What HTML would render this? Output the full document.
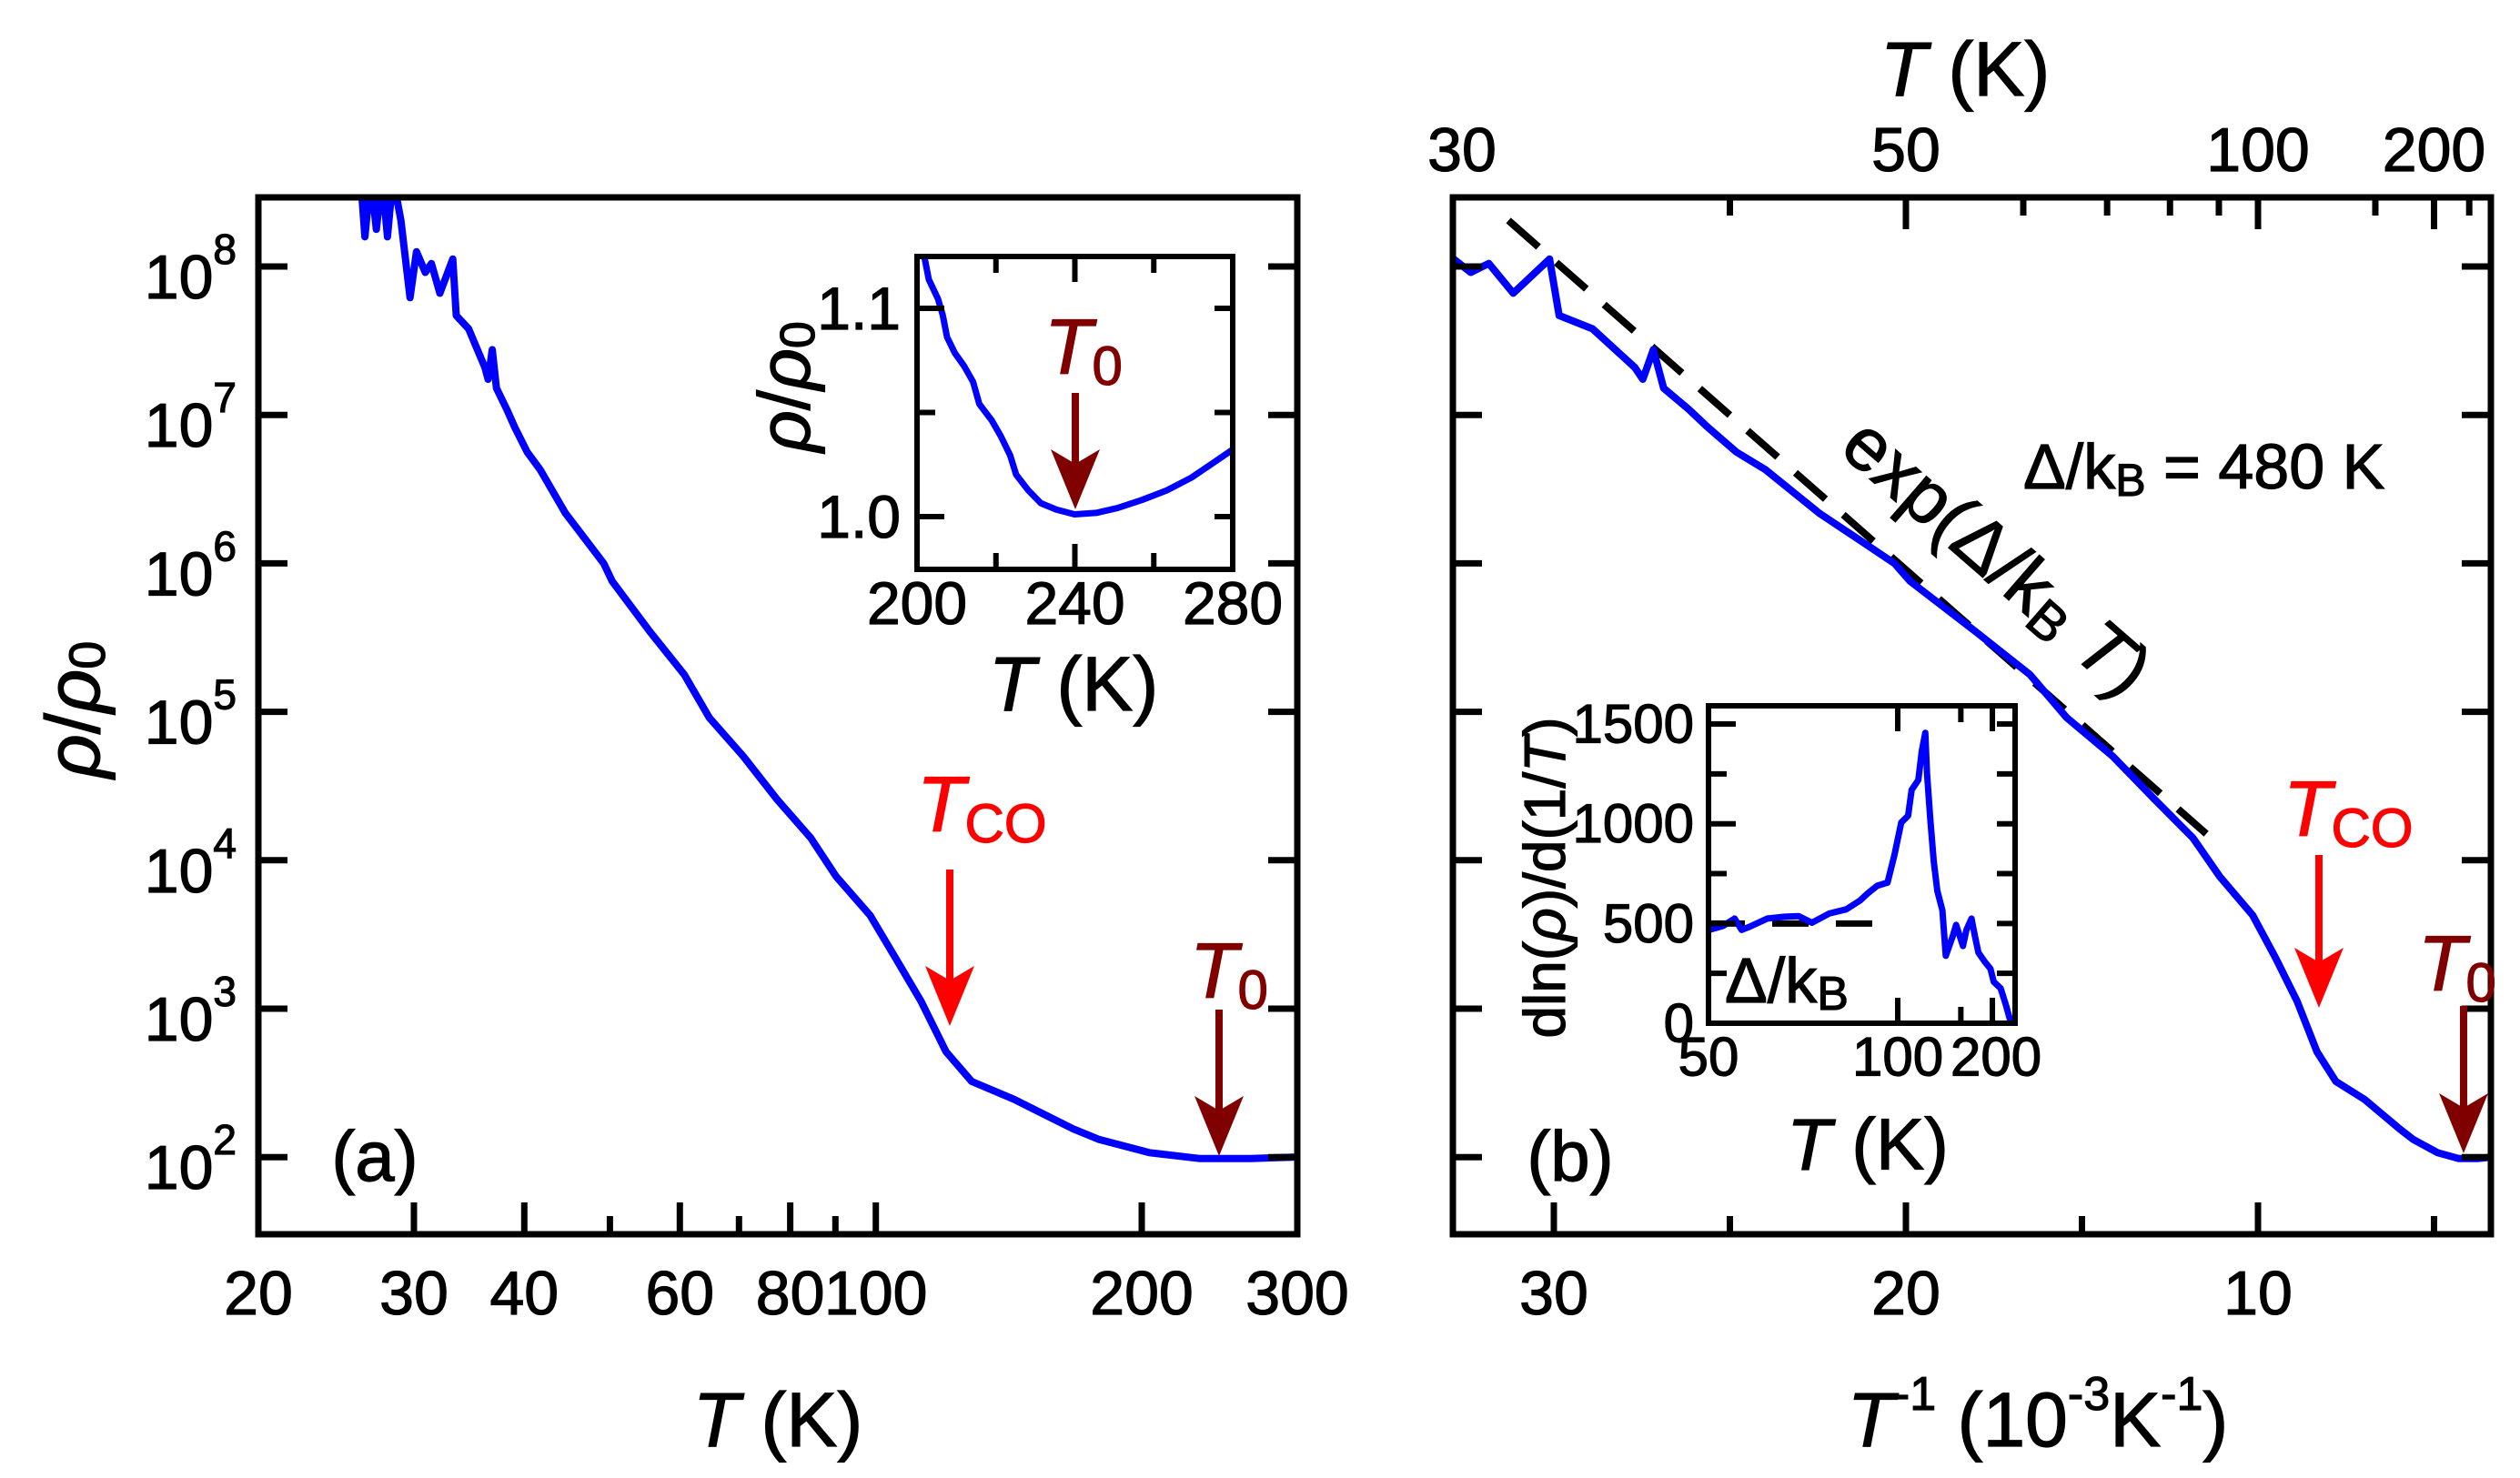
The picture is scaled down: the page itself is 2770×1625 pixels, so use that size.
<!DOCTYPE html>
<html><head><meta charset="utf-8">
<style>
html,body{margin:0;padding:0;background:#fff;}
svg{display:block;font-family:"Liberation Sans",Arial,sans-serif;}
text{stroke-width:1.2px;paint-order:stroke;}
</style></head>
<body>
<svg id="fig" width="2770" height="1625" viewBox="0 0 2770 1625" xmlns="http://www.w3.org/2000/svg">
<defs>
<clipPath id="clipA"><rect x="284" y="217" width="1142" height="1140"/></clipPath>
<clipPath id="clipB"><rect x="1597" y="217" width="1141" height="1140"/></clipPath>
<clipPath id="clipIA"><rect x="1008" y="282" width="347" height="344"/></clipPath>
<clipPath id="clipIB"><rect x="1878" y="776" width="337" height="349"/></clipPath>
</defs>
<g id="root"></g>
</svg>
<script>
// ---- data (main curve: temperature in K, log10 of rho/rho0) ----
const mainT = [26.1,26.4,26.8,27.2,27.6,28.0,28.4,29.0,29.7,30.2,30.9,31.4,32.1,33.2,33.5,34.6,36.1,36.4,36.8,37.2,38.2,39.0,40.3,41.7,44.5,49.2,50.3,55.5,60.7,64.8,70.8,77.3,84.4,90.2,98.5,105.3,112.5,120.1,128.4,143.3,167.3,178.7,204,232.8,265.8,296.8];
const mainLogRho = [8.6,8.2,8.6,8.25,8.6,8.2,8.6,8.31,7.79,8.10,7.96,8.02,7.82,8.05,7.67,7.58,7.32,7.24,7.44,7.18,7.04,6.92,6.75,6.63,6.34,6.00,5.88,5.54,5.25,4.96,4.70,4.41,4.15,3.89,3.63,3.34,3.05,2.71,2.51,2.39,2.19,2.12,2.03,1.99,1.99,2.00];
// inset (a): temperature and rho/rho0
const insetAT = [201.8,203.0,205.3,206.5,207.6,209.6,211.9,214.2,215.8,218.9,221.2,223.6,225.1,228.2,231.4,235.3,239.9,245.4,250.8,257.0,263.3,269.5,274.9,279.6];
const insetAV = [1.1253,1.1138,1.1046,1.0969,1.0862,1.0785,1.0724,1.0647,1.0540,1.0463,1.0387,1.0294,1.0202,1.0126,1.0064,1.0034,1.0011,1.0018,1.0041,1.0080,1.0126,1.0187,1.0256,1.0317];
// inset (b): temperature and dln(rho)/d(1/T)
const insetBT = [50.1,52.0,53.7,54.8,56.2,59.2,62.6,65.6,68.8,73.4,78.6,83.4,86.0,90.2,94.9,98.3,101.9,105.8,107.9,112.2,114.6,117.0,118.3,120.8,123.5,126.4,130.9,134.0,140.9,144.6,152.6,156.9,163.9,168.9,174.3,186.0,195.9,203.1,219.2,233.2,248.9];
const insetBV = [468,488,525,468,485,525,534,537,504,550,571,615,648,689,705,844,1007,1040,1170,1219,1366,1456,1252,1023,811,664,566,338,436,493,387,468,525,436,354,305,273,207,175,93,0];
// ticks
const aXLabels = [20,30,40,60,80,100,200,300];
const aXMinor = [50,70,90];
const logDecades = [2,3,4,5,6,7,8];
const bXMajor = [30,20,10];
const bXMinor = [25,15,5];
const bTopMajor = [50,100,200];
const bTopMinor = [40,60,70,80,90,150,250];
const iaXMajor = [200,240,280];
const iaXMinor = [220,260];
const iaYMajor = [1.0,1.1];
const iaYMinor = [1.05];
const ibYMajor = [0,500,1000,1500];
const ibYMinor = [250,750,1250];
const ibXMajor = [50,100,200];
const gapEnergy = [480];
const fitAnchor = [31.29, 8.31];
const ibDashLevel = [500];
const ibDashEndT = [90];

// ---- axes ----
const NS = "http://www.w3.org/2000/svg";
const root = document.getElementById('root');
const xa = T => 284 + (Math.log10(T) - Math.log10(20)) * (1142 / Math.log10(15));
const ya = l => 293 + (8 - l) * 163.2;
const xb = inv => 1708 + (30 - inv) * 38.7;
const yb = ya;
const xia = T => 1008 + (T - 200) / 80 * 347;
const yia = v => 568 - (v - 1) * 2290;
const xib = T => 1878 + (0.02 - 1 / T) / 0.0162 * 337;
const yib = v => 1125 - v * 0.2193;

function mk(tag, attrs, name, parent) {
  const el = document.createElementNS(NS, tag);
  for (const k in attrs) el.setAttribute(k, attrs[k]);
  
  
  (parent || root).appendChild(el);
  return el;
}
function ln(x1, y1, x2, y2, w, name, col) {
  return mk('line', {x1: x1, y1: y1, x2: x2, y2: y2, stroke: col || '#000', 'stroke-width': w}, name);
}
function txt(x, y, s, size, name, opts) {
  opts = opts || {};
  const c = opts.fill || '#000';
  const t = mk('text', {x: x, y: y, 'font-size': size, 'text-anchor': opts.anchor || 'middle', 'dominant-baseline': 'central', fill: c, stroke: c}, name);
  if (opts.html) t.innerHTML = s; else t.textContent = s;
  if (opts.rot) t.setAttribute('transform', 'rotate(' + opts.rot + ' ' + x + ' ' + y + ')');
  return t;
}
function poly(xs, ys, name, clip, col, w, dash) {
  const pts = xs.map((x, i) => x.toFixed(1) + ',' + ys[i].toFixed(1)).join(' ');
  const a = {points: pts, fill: 'none', stroke: col, 'stroke-width': w, 'stroke-linejoin': 'round', 'stroke-linecap': 'round', 'clip-path': 'url(#' + clip + ')'};
  if (dash) { a['stroke-dasharray'] = dash; a['stroke-linecap'] = 'butt'; }
  return mk('polyline', a, name);
}
function arrow(x, y1, y2, col, name) {
  const g = mk('g', {}, name);
  const l = document.createElementNS(NS, 'line');
  l.setAttribute('x1', x); l.setAttribute('y1', y1); l.setAttribute('x2', x); l.setAttribute('y2', y2 - 30);
  l.setAttribute('stroke', col); l.setAttribute('stroke-width', 8);
  g.appendChild(l);
  const p = document.createElementNS(NS, 'polygon');
  p.setAttribute('points', (x - 27) + ',' + (y2 - 66) + ' ' + x + ',' + (y2 - 50) + ' ' + (x + 27) + ',' + (y2 - 66) + ' ' + x + ',' + y2);
  p.setAttribute('fill', col);
  g.appendChild(p);
  return g;
}
const DR = '#800000';

// ================= Panel (a) =================
poly(mainT.map(xa), mainLogRho.map(ya), 'resistivity-curve-a', 'clipA', '#0000ff', 8);
mk('rect', {x: 284, y: 217, width: 1142, height: 1140, fill: 'none', stroke: '#000', 'stroke-width': 7}, 'panel-a-frame');
aXLabels.forEach(T => {
  ln(xa(T), 1357, xa(T), 1322, 7, 'x-tick-a-' + T);
  txt(xa(T), 1422, String(T), 68, 'x-tick-label-a-' + T);
});
aXMinor.forEach(T => { ln(xa(T), 1357, xa(T), 1337, 7, 'x-minor-tick-a-' + T); });
logDecades.forEach(d => {
  ln(284, ya(d), 316, ya(d), 7, 'y-tick-a-' + d);
  ln(1426, ya(d), 1394, ya(d), 7, 'y-tick-a-right-' + d);
  txt(260, ya(d) + 12, '10<tspan font-size="46" dy="-31">' + d + '</tspan>', 68, 'y-tick-label-a-' + d, {anchor: 'end', html: true});
});
txt(855, 1561, '<tspan font-style="italic">T</tspan> (K)', 84, 'x-axis-title-a', {html: true});
txt(80, 780, '<tspan font-style="italic">ρ</tspan>/<tspan font-style="italic">ρ</tspan><tspan font-size="56" dy="15">0</tspan>', 84, 'y-axis-title-a', {html: true, rot: -90});
txt(412, 1271, '(a)', 78, 'panel-label-a');
txt(1008, 885, '<tspan font-style="italic">T</tspan><tspan font-size="60" dy="20">CO</tspan>', 86, 'tco-label-a', {anchor: 'start', fill: '#ff0000', html: true});
arrow(1044, 956, 1128, '#ff0000', 'tco-arrow-a');
txt(1308, 1068, '<tspan font-style="italic">T</tspan><tspan font-size="60" dy="20">0</tspan>', 86, 't0-label-a', {anchor: 'start', fill: DR, html: true});
arrow(1340, 1110, 1271, DR, 't0-arrow-a');

// inset (a)
poly(insetAT.map(xia), insetAV.map(yia), 'inset-a-curve', 'clipIA', '#0000ff', 7);
mk('rect', {x: 1008, y: 282, width: 347, height: 344, fill: 'none', stroke: '#000', 'stroke-width': 6}, 'inset-a-frame');
iaXMajor.forEach(T => {
  ln(xia(T), 626, xia(T), 598, 6, 'inset-a-x-tick-' + T);
  ln(xia(T), 282, xia(T), 310, 6, 'inset-a-x-tick-top-' + T);
  txt(xia(T), 663, String(T), 66, 'inset-a-x-label-' + T);
});
iaXMinor.forEach(T => {
  ln(xia(T), 626, xia(T), 608, 6, 'inset-a-x-minor-' + T);
  ln(xia(T), 282, xia(T), 300, 6, 'inset-a-x-minor-top-' + T);
});
iaYMajor.forEach(v => {
  ln(1008, yia(v), 1038, yia(v), 6, 'inset-a-y-tick-' + v);
  ln(1355, yia(v), 1335, yia(v), 6, 'inset-a-y-tick-right-' + v);
  txt(990, yia(v), v.toFixed(1), 66, 'inset-a-y-label-' + v, {anchor: 'end'});
});
iaYMinor.forEach(v => {
  ln(1008, yia(v), 1028, yia(v), 6, 'inset-a-y-minor-' + v);
  ln(1355, yia(v), 1335, yia(v), 6, 'inset-a-y-minor-right-' + v);
});
txt(1180, 752, '<tspan font-style="italic">T</tspan> (K)', 84, 'inset-a-x-title', {html: true});
txt(862, 425, '<tspan font-style="italic">ρ</tspan>/<tspan font-style="italic">ρ</tspan><tspan font-size="54" dy="15">0</tspan>', 80, 'inset-a-y-title', {html: true, rot: -90});
txt(1148, 382, '<tspan font-style="italic">T</tspan><tspan font-size="60" dy="20">0</tspan>', 86, 't0-label-inset-a', {anchor: 'start', fill: DR, html: true});
arrow(1182, 432, 560, DR, 't0-arrow-inset-a');

// ================= Panel (b) =================
const fitX = [fitAnchor[0], 11.47];
const fitY = fitX.map(x => fitAnchor[1] - (fitAnchor[0] - x) * gapEnergy[0] / 1000 / Math.LN10);
poly(fitX.map(xb), fitY.map(yb), 'activation-fit-line', 'clipB', '#000', 8, '44,26');
poly(mainT.map(T => xb(1000 / T)), mainLogRho.map(yb), 'resistivity-curve-b', 'clipB', '#0000ff', 8);
mk('rect', {x: 1597, y: 217, width: 1141, height: 1140, fill: 'none', stroke: '#000', 'stroke-width': 7}, 'panel-b-frame');
bXMajor.forEach(v => {
  ln(xb(v), 1357, xb(v), 1322, 7, 'x-tick-b-' + v);
  txt(xb(v), 1422, String(v), 68, 'x-tick-label-b-' + v);
});
bXMinor.forEach(v => { ln(xb(v), 1357, xb(v), 1337, 7, 'x-minor-tick-b-' + v); });
bTopMajor.forEach(T => {
  ln(xb(1000 / T), 217, xb(1000 / T), 252, 7, 'top-tick-b-' + T);
  txt(xb(1000 / T), 165, String(T), 68, 'top-tick-label-b-' + T);
});
txt(1607, 165, '30', 68, 'top-tick-label-b-30');
bTopMinor.forEach(T => { ln(xb(1000 / T), 217, xb(1000 / T), 237, 7, 'top-minor-tick-b-' + T); });
logDecades.forEach(d => {
  ln(1597, yb(d), 1629, yb(d), 7, 'y-tick-b-' + d);
  ln(2738, yb(d), 2706, yb(d), 7, 'y-tick-b-right-' + d);
});
txt(2160, 76, '<tspan font-style="italic">T</tspan> (K)', 84, 'top-axis-title-b', {html: true});
txt(2240, 1561, '<tspan font-style="italic">T</tspan><tspan font-size="52" dy="-28">-1</tspan><tspan dy="28"> (10</tspan><tspan font-size="52" dy="-28">-3</tspan><tspan dy="28">K</tspan><tspan font-size="52" dy="-28">-1</tspan><tspan dy="28">)</tspan>', 84, 'x-axis-title-b', {html: true});
txt(1726, 1271, '(b)', 78, 'panel-label-b');
txt(2195, 612, 'exp(Δ/k<tspan font-size="58" dy="17">B</tspan><tspan dy="-17" font-style="italic"> T</tspan>)', 82, 'fit-formula-label', {html: true, rot: 41});
txt(2224, 513, 'Δ/k<tspan font-size="50" dy="15">B</tspan><tspan dy="-15"> = 480 K</tspan>', 70, 'gap-value-label', {anchor: 'start', html: true});
txt(2510, 890, '<tspan font-style="italic">T</tspan><tspan font-size="60" dy="20">CO</tspan>', 86, 'tco-label-b', {anchor: 'start', fill: '#ff0000', html: true});
arrow(2549, 940, 1108, '#ff0000', 'tco-arrow-b');
txt(2658, 1060, '<tspan font-style="italic">T</tspan><tspan font-size="60" dy="20">0</tspan>', 86, 't0-label-b', {anchor: 'start', fill: DR, html: true});
arrow(2708, 1106, 1268, DR, 't0-arrow-b');

// inset (b)
poly([50, ibDashEndT[0]].map(xib), [yib(ibDashLevel[0]), yib(ibDashLevel[0])], 'inset-b-gap-dash', 'clipIB', '#000', 7, '40,30');
poly(insetBT.map(xib), insetBV.map(yib), 'inset-b-curve', 'clipIB', '#0000ff', 7);
mk('rect', {x: 1878, y: 776, width: 337, height: 349, fill: 'none', stroke: '#000', 'stroke-width': 6}, 'inset-b-frame');
ibYMajor.forEach(v => {
  ln(1878, yib(v), 1908, yib(v), 6, 'inset-b-y-tick-' + v);
  ln(2215, yib(v), 2195, yib(v), 6, 'inset-b-y-tick-right-' + v);
  txt(1862, yib(v), String(v), 60, 'inset-b-y-label-' + v, {anchor: 'end'});
});
ibYMinor.forEach(v => {
  ln(1878, yib(v), 1898, yib(v), 6, 'inset-b-y-minor-' + v);
  ln(2215, yib(v), 2195, yib(v), 6, 'inset-b-y-minor-right-' + v);
});
ibXMajor.forEach(T => {
  ln(xib(T), 1125, xib(T), 1097, 6, 'inset-b-x-tick-' + T);
  ln(xib(T), 776, xib(T), 804, 6, 'inset-b-x-tick-top-' + T);
  txt(xib(T) + (T === 200 ? 4 : 0), 1162, String(T), 60, 'inset-b-x-label-' + T);
});
ln(xib(150), 1125, xib(150), 1107, 6, 'inset-b-x-minor-150');
ln(xib(150), 776, xib(150), 794, 6, 'inset-b-x-minor-top-150');
txt(2053, 1258, '<tspan font-style="italic">T</tspan> (K)', 80, 'inset-b-x-title', {html: true});
txt(1698, 965, 'dln(<tspan font-style="italic">ρ</tspan>)/d(1/<tspan font-style="italic">T</tspan>)', 64, 'inset-b-y-title', {html: true, rot: -90});
txt(1896, 1078, 'Δ/k<tspan font-size="52" dy="15">B</tspan>', 70, 'inset-b-gap-label', {anchor: 'start', html: true});
</script>
</body></html>
